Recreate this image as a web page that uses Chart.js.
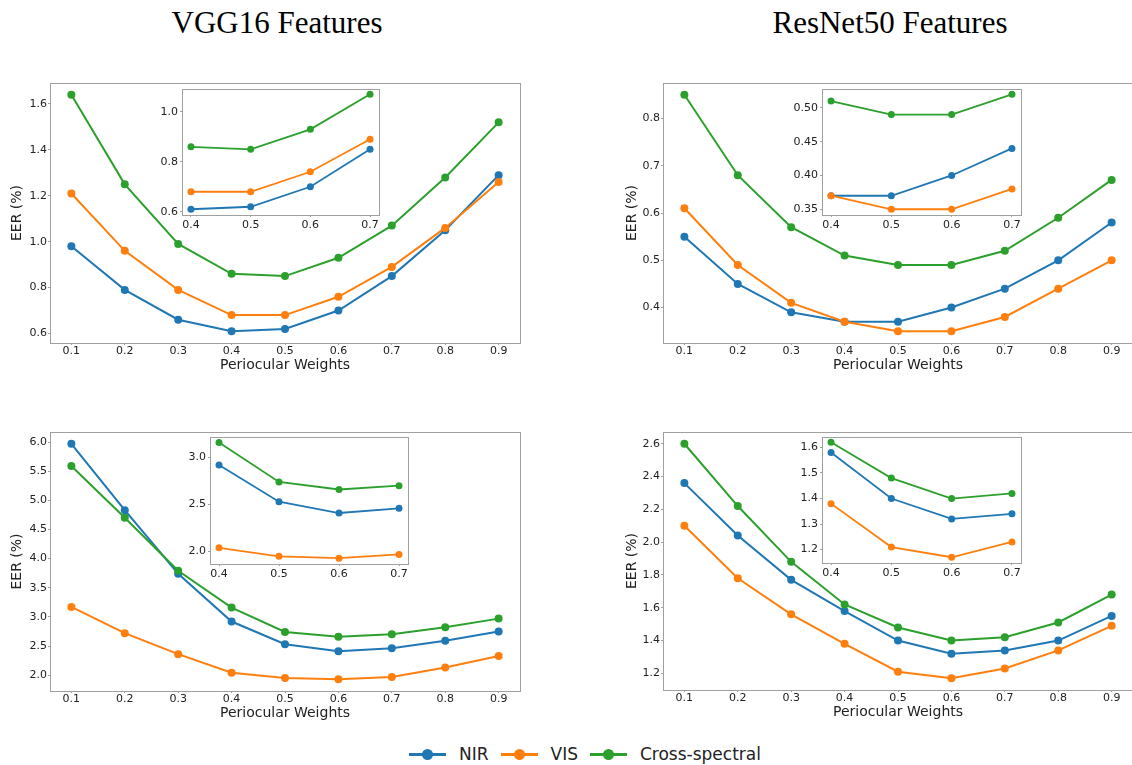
<!DOCTYPE html>
<html>
<head>
<meta charset="utf-8">
<script src="https://cdn.jsdelivr.net/npm/chart.js@4.4.0/dist/chart.umd.min.js"></script>
<style>
  html, body { margin: 0; padding: 0; background: #fff; overflow: hidden; }
  #page { position: relative; width: 1132px; height: 765px; overflow: hidden; }
  canvas { position: absolute; }
  .title {
    position: absolute; top: 7px; transform: translateX(-50%);
    font-family: 'Liberation Serif', 'Times New Roman', serif; font-size: 31px;
    line-height: 31px; color: #000; white-space: nowrap;
  }
  #legend {
    position: absolute; left: 409px; top: 744px; height: 20px;
    display: flex; align-items: center;
    font-family: 'DejaVu Sans', sans-serif; font-size: 17px; color: #222;
  }
  .item { display: flex; align-items: center; margin-right: 12px; }
  .sw { position: relative; width: 37px; height: 20px; margin-right: 13px; }
  .sw::before { content: ''; position: absolute; left: 0; right: 0; top: 8.5px; height: 3px; background: var(--c); }
  .sw::after { content: ''; position: absolute; left: 13px; top: 4.5px; width: 11px; height: 11px; border-radius: 50%; background: var(--c); }
</style>
</head>
<body>
<div id="page">
  <div class="title" style="left:277px">VGG16 Features</div>
  <div class="title" style="left:890px">ResNet50 Features</div>
  <canvas id="vgg-top"></canvas>
  <canvas id="res-top"></canvas>
  <canvas id="vgg-bottom"></canvas>
  <canvas id="res-bottom"></canvas>
  <canvas id="vgg-top-inset"></canvas>
  <canvas id="res-top-inset"></canvas>
  <canvas id="vgg-bottom-inset"></canvas>
  <canvas id="res-bottom-inset"></canvas>
  <div id="legend"></div>
</div>
<script>
// Series namen en kleuren
const seriesNames = ['NIR', 'VIS', 'Cross-spectral'];
const seriesColors = ['#1f77b4', '#ff7f0e', '#2ca02c'];

// X-as: periocular weights
const weightLabels = ['0.1', '0.2', '0.3', '0.4', '0.5', '0.6', '0.7', '0.8', '0.9'];
const insetWeightLabels = ['0.4', '0.5', '0.6', '0.7'];

// VGG16, bovenste rij
const vggNirTop = [0.98, 0.79, 0.66, 0.61, 0.62, 0.70, 0.85, 1.05, 1.29];
const vggVisTop = [1.21, 0.96, 0.79, 0.68, 0.68, 0.76, 0.89, 1.06, 1.26];
const vggCrossTop = [1.64, 1.25, 0.99, 0.86, 0.85, 0.93, 1.07, 1.28, 1.52];

// ResNet50, bovenste rij
const resNirTop = [0.55, 0.45, 0.39, 0.37, 0.37, 0.40, 0.44, 0.50, 0.58];
const resVisTop = [0.61, 0.49, 0.41, 0.37, 0.35, 0.35, 0.38, 0.44, 0.50];
const resCrossTop = [0.85, 0.68, 0.57, 0.51, 0.49, 0.49, 0.52, 0.59, 0.67];

// VGG16, onderste rij
const vggNirBottom = [5.97, 4.83, 3.74, 2.92, 2.53, 2.41, 2.46, 2.59, 2.75];
const vggVisBottom = [3.17, 2.72, 2.36, 2.04, 1.95, 1.93, 1.97, 2.13, 2.33];
const vggCrossBottom = [5.59, 4.70, 3.79, 3.16, 2.74, 2.66, 2.70, 2.82, 2.97];

// ResNet50, onderste rij
const resNirBottom = [2.36, 2.04, 1.77, 1.58, 1.40, 1.32, 1.34, 1.40, 1.55];
const resVisBottom = [2.10, 1.78, 1.56, 1.38, 1.21, 1.17, 1.23, 1.34, 1.49];
const resCrossBottom = [2.60, 2.22, 1.88, 1.62, 1.48, 1.40, 1.42, 1.51, 1.68];

// Y-as tick labels
const vggTopTicks = ['0.6', '0.8', '1.0', '1.2', '1.4', '1.6'];
const resTopTicks = ['0.4', '0.5', '0.6', '0.7', '0.8'];
const vggBottomTicks = ['2.0', '2.5', '3.0', '3.5', '4.0', '4.5', '5.0', '5.5', '6.0'];
const resBottomTicks = ['1.2', '1.4', '1.6', '1.8', '2.0', '2.2', '2.4', '2.6'];
const vggTopInsetTicks = ['0.6', '0.8', '1.0'];
const resTopInsetTicks = ['0.35', '0.40', '0.45', '0.50'];
const vggBottomInsetTicks = ['2.0', '2.5', '3.0'];
const resBottomInsetTicks = ['1.2', '1.3', '1.4', '1.5', '1.6'];

// Kader rond het plotgebied (en witte achtergrond voor de insets)
const framePlugin = {
    id: 'frame',
    beforeDraw(chart, args, opts) {
        if (!opts.fill) return;
        const a = chart.chartArea;
        chart.ctx.save();
        chart.ctx.fillStyle = '#fff';
        chart.ctx.fillRect(a.left, a.top, a.right - a.left, a.bottom - a.top);
        chart.ctx.restore();
    },
    afterDraw(chart) {
        const a = chart.chartArea;
        const ctx = chart.ctx;
        ctx.save();
        ctx.strokeStyle = '#a0a0a0';
        ctx.lineWidth = 1;
        ctx.strokeRect(Math.round(a.left) + 0.5, Math.round(a.top) + 0.5,
            Math.round(a.right - a.left), Math.round(a.bottom - a.top));
        ctx.restore();
    }
};
Chart.register(framePlugin);

function paddedRange(arrays) {
    const all = arrays.flat();
    const lo = Math.min(...all);
    const hi = Math.max(...all);
    const m = (hi - lo) * 0.05;
    return [lo - m, hi + m];
}

function pickInset(values) {
    return insetWeightLabels.map(w => values[weightLabels.indexOf(w)]);
}

// Bouw een paneel zodat het plotgebied precies op box valt
function buildPanel(canvasId, box, xLabels, yLabels, series, inset) {
    const axisW = inset ? 32 : box.axisW;
    const axisH = inset ? 20 : 33;
    const padTop = inset ? 6 : 10;
    const padRight = inset ? 6 : 12;

    const canvas = document.getElementById(canvasId);
    canvas.width = axisW + (box.r - box.l) + padRight;
    canvas.height = padTop + (box.b - box.t) + axisH;
    canvas.style.left = (box.l - axisW) + 'px';
    canvas.style.top = (box.t - padTop) + 'px';

    const xs = xLabels.map(Number);
    const ys = yLabels.map(Number);
    const xm = (xs[xs.length - 1] - xs[0]) * 0.05;
    const [yMin, yMax] = paddedRange(series);

    const tickFont = { family: 'DejaVu Sans', size: 11 };
    const titleFont = { family: 'DejaVu Sans', size: 14 };
    const textColor = '#222';

    return new Chart(canvas.getContext('2d'), {
        type: 'line',
        data: {
            datasets: series.map((vals, i) => ({
                label: seriesNames[i],
                data: vals.map((v, j) => ({ x: xs[j], y: v })),
                borderColor: seriesColors[i],
                backgroundColor: seriesColors[i],
                borderWidth: inset ? 1.8 : 2,
                pointRadius: inset ? 3.5 : 4,
                pointBorderWidth: 0,
                pointHoverRadius: inset ? 3.5 : 4,
                tension: 0,
                order: 2 - i
            }))
        },
        options: {
            responsive: false,
            animation: false,
            devicePixelRatio: 1,
            layout: { padding: { left: 0, top: padTop, right: padRight, bottom: 0 } },
            plugins: {
                legend: { display: false },
                tooltip: { enabled: false },
                frame: { fill: inset }
            },
            events: [],
            scales: {
                x: {
                    type: 'linear',
                    bounds: 'data',
                    min: xs[0] - xm,
                    max: xs[xs.length - 1] + xm,
                    afterBuildTicks: scale => { scale.ticks = xs.map(v => ({ value: v })); },
                    afterFit: scale => { scale.height = axisH; },
                    ticks: {
                        autoSkip: false,
                        maxRotation: 0,
                        padding: inset ? 2 : 0,
                        font: tickFont,
                        color: textColor,
                        callback: (v, i) => xLabels[i]
                    },
                    grid: { display: true, drawOnChartArea: false, drawTicks: true, tickLength: 2, color: '#a0a0a0' },
                    border: { display: false },
                    title: {
                        display: !inset,
                        text: 'Periocular Weights',
                        font: titleFont,
                        color: textColor,
                        padding: { top: 0, bottom: 2 }
                    }
                },
                y: {
                    type: 'linear',
                    bounds: 'data',
                    min: yMin,
                    max: yMax,
                    afterBuildTicks: scale => { scale.ticks = ys.map(v => ({ value: v })); },
                    afterFit: scale => { scale.width = axisW; },
                    ticks: {
                        autoSkip: false,
                        padding: inset ? 2 : 1,
                        font: tickFont,
                        color: textColor,
                        callback: (v, i) => yLabels[i]
                    },
                    grid: { display: true, drawOnChartArea: false, drawTicks: true, tickLength: 2, color: '#a0a0a0' },
                    border: { display: false },
                    title: {
                        display: !inset,
                        text: 'EER (%)',
                        font: titleFont,
                        color: textColor,
                        padding: { top: 9, bottom: 0 }
                    }
                }
            }
        }
    });
}

// Hoofdpanelen
buildPanel('vgg-top', { l: 50, t: 83, r: 520, b: 343, axisW: 50 }, weightLabels, vggTopTicks,
    [vggNirTop, vggVisTop, vggCrossTop], false);
buildPanel('res-top', { l: 663, t: 83, r: 1133, b: 343, axisW: 48 }, weightLabels, resTopTicks,
    [resNirTop, resVisTop, resCrossTop], false);
buildPanel('vgg-bottom', { l: 50, t: 432, r: 520, b: 691, axisW: 50 }, weightLabels, vggBottomTicks,
    [vggNirBottom, vggVisBottom, vggCrossBottom], false);
buildPanel('res-bottom', { l: 663, t: 432, r: 1133, b: 690, axisW: 48 }, weightLabels, resBottomTicks,
    [resNirBottom, resVisBottom, resCrossBottom], false);

// Insets (weights 0.4 - 0.7)
buildPanel('vgg-top-inset', { l: 182, t: 86, r: 379, b: 215 }, insetWeightLabels, vggTopInsetTicks,
    [vggNirTop, vggVisTop, vggCrossTop].map(pickInset), true);
buildPanel('res-top-inset', { l: 822, t: 86, r: 1021, b: 215 }, insetWeightLabels, resTopInsetTicks,
    [resNirTop, resVisTop, resCrossTop].map(pickInset), true);
buildPanel('vgg-bottom-inset', { l: 210, t: 434, r: 408, b: 564 }, insetWeightLabels, vggBottomInsetTicks,
    [vggNirBottom, vggVisBottom, vggCrossBottom].map(pickInset), true);
buildPanel('res-bottom-inset', { l: 822, t: 434, r: 1021, b: 563 }, insetWeightLabels, resBottomInsetTicks,
    [resNirBottom, resVisBottom, resCrossBottom].map(pickInset), true);

// Gedeelde legenda onderaan
const legend = document.getElementById('legend');
seriesNames.forEach((name, i) => {
    const item = document.createElement('span');
    item.className = 'item';
    const sw = document.createElement('span');
    sw.className = 'sw';
    sw.style.setProperty('--c', seriesColors[i]);
    item.appendChild(sw);
    item.appendChild(document.createTextNode(name));
    legend.appendChild(item);
});
</script>
</body>
</html>
